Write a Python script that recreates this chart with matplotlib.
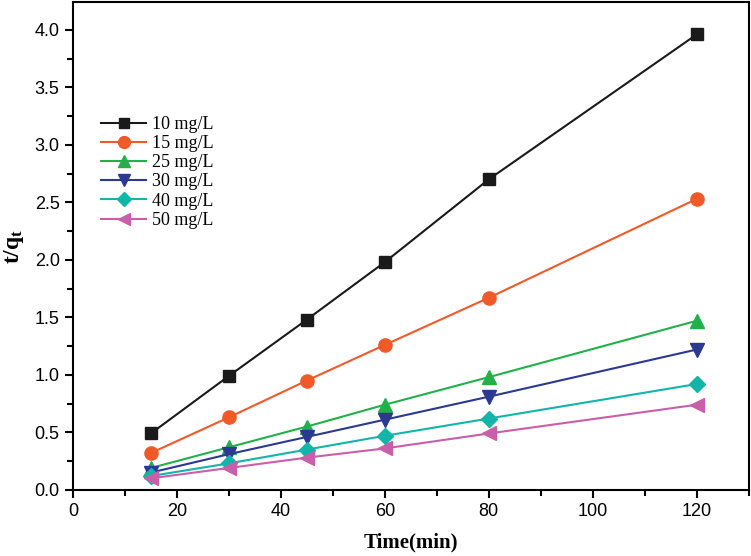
import numpy as np
import matplotlib.pyplot as plt
from matplotlib.ticker import MultipleLocator

plt.rcParams['mathtext.fontset'] = 'custom'
plt.rcParams['mathtext.bf'] = 'Liberation Serif:bold'
plt.rcParams['mathtext.rm'] = 'Liberation Serif'

# data
time = [15, 30, 45, 60, 80, 120]
labels = ['10 mg/L', '15 mg/L', '25 mg/L', '30 mg/L', '40 mg/L', '50 mg/L']
c10 = [0.49, 0.99, 1.48, 1.98, 2.70, 3.96]
c15 = [0.32, 0.63, 0.95, 1.26, 1.67, 2.53]
c25 = [0.19, 0.37, 0.55, 0.74, 0.98, 1.47]
c30 = [0.15, 0.31, 0.46, 0.61, 0.81, 1.22]
c40 = [0.12, 0.23, 0.35, 0.47, 0.62, 0.92]
c50 = [0.10, 0.19, 0.28, 0.36, 0.49, 0.74]

series = [c10, c15, c25, c30, c40, c50]
colors = ['#1a1a1a', '#f05a28', '#22b04b', '#2b3990', '#13b5a8', '#c95fa8']
markers = ['s', 'o', '^', 'v', 'D', '<']
msizes = [8.5, 9.5, 10, 10, 8, 10]

fig = plt.figure(figsize=(7.51, 5.56), dpi=100)
ax = fig.add_axes([0.097, 0.119, 0.9, 0.877])

for y, lab, c, m, ms in zip(series, labels, colors, markers, msizes):
    ax.plot(time, y, color=c, marker=m, markersize=ms, linewidth=1.5,
            markeredgecolor=c, label=lab)

ax.set_xlim(0, 130)
ax.set_ylim(0, 4.24)
ax.xaxis.set_major_locator(MultipleLocator(20))
ax.xaxis.set_minor_locator(MultipleLocator(10))
ax.yaxis.set_major_locator(MultipleLocator(0.5))
ax.yaxis.set_minor_locator(MultipleLocator(0.25))
ax.yaxis.set_major_formatter(plt.FormatStrFormatter('%.1f'))

ax.tick_params(which='both', direction='out', width=1.5, labelsize=13)
ax.tick_params(which='major', length=6)
ax.tick_params(which='minor', length=4)
for lbl in ax.get_xticklabels() + ax.get_yticklabels():
    lbl.set_family('Liberation Sans')
for s in ax.spines.values():
    s.set_linewidth(1.5)

ax.set_xlabel('Time(min)', family='Liberation Serif', fontweight='bold',
              fontsize=15, labelpad=9)
ax.set_ylabel(r'$\mathbf{t/q_t}$', fontsize=17, labelpad=6)

leg = ax.legend(loc='upper left', bbox_to_anchor=(0.018, 0.8), frameon=False,
                prop={'family': 'Liberation Serif', 'size': 13}, numpoints=1,
                handlelength=2.5, labelspacing=0.12, handletextpad=0.3,
                markerscale=0.9)

fig.savefig('out.png', dpi=100)
